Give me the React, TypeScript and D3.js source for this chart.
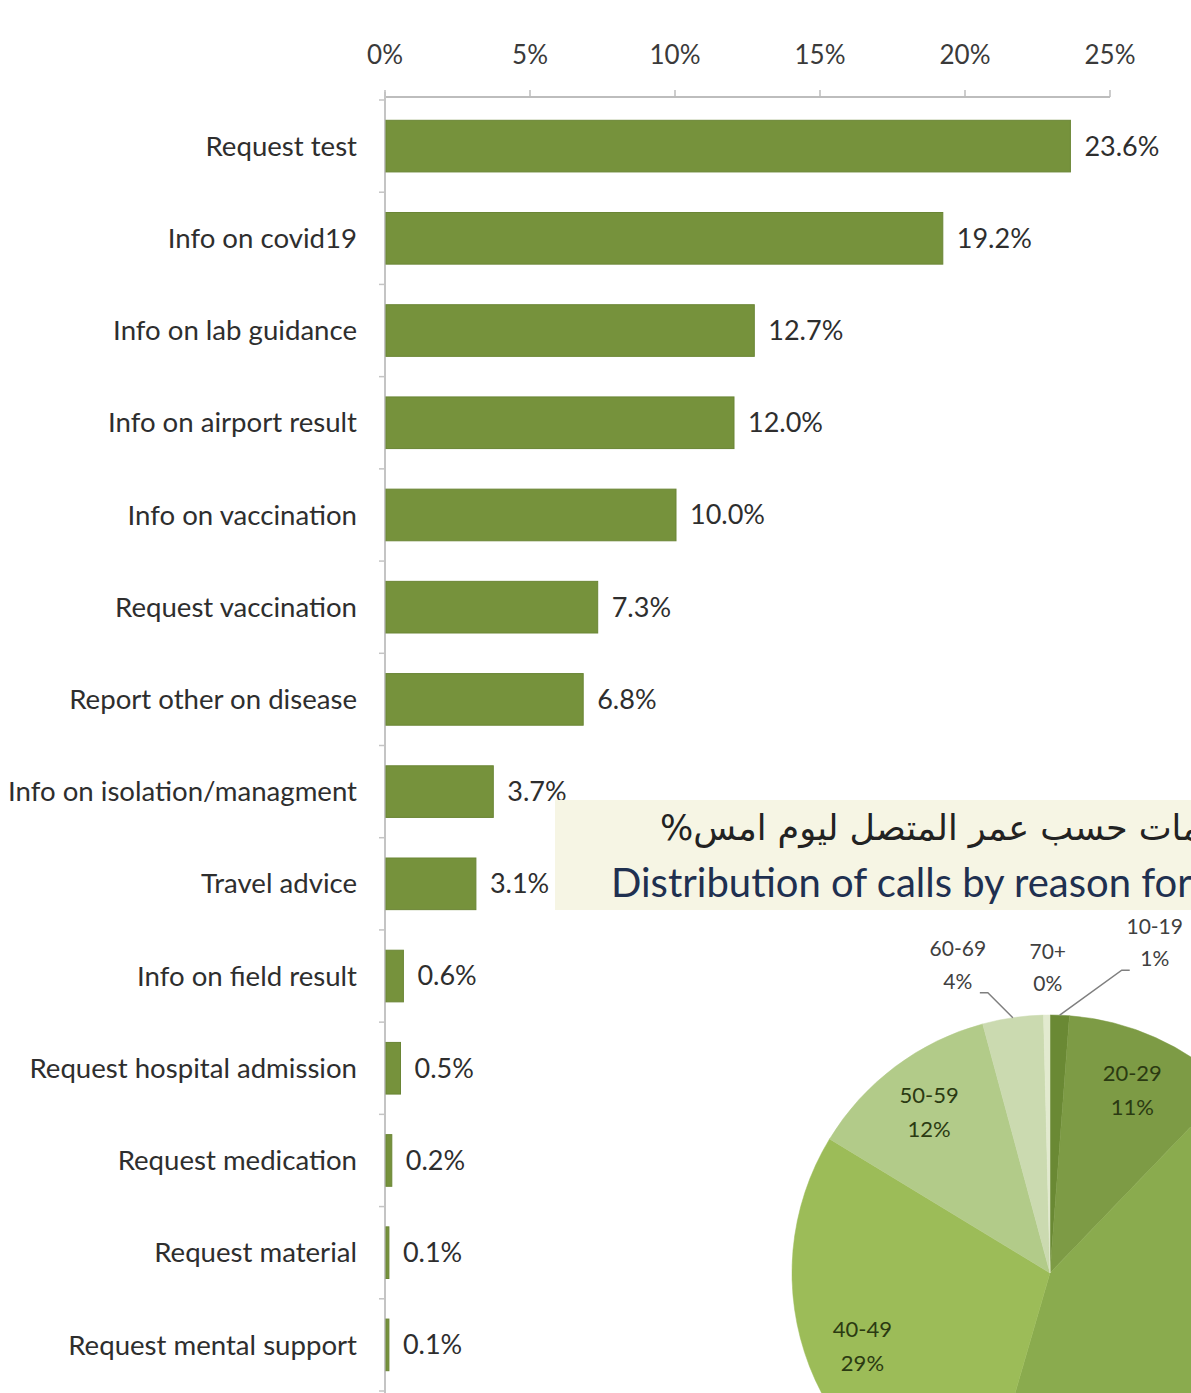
import React from "react";
import * as d3 from "d3";

const categories = [
  "Request test",
  "Info on covid19",
  "Info on lab guidance",
  "Info on airport result",
  "Info on vaccination",
  "Request vaccination",
  "Report other on disease",
  "Info on isolation/managment",
  "Travel advice",
  "Info on field result",
  "Request hospital admission",
  "Request medication",
  "Request material",
  "Request mental support",
];
const values = [23.6, 19.2, 12.7, 12.0, 10.0, 7.3, 6.8, 3.7, 3.1, 0.6, 0.5, 0.2, 0.1, 0.1];
const xTicks = [0, 5, 10, 15, 20, 25];

const ageGroups = ["10-19", "20-29", "30-39", "40-49", "50-59", "60-69", "70+"];
const ageShares = [1.2, 11, 42.3, 29.2, 12.1, 3.8, 0.4];
const ageLabels = ["1%", "11%", "42%", "29%", "12%", "4%", "0%"];
const ageColors = ["#6a8934", "#7d9b45", "#8aab4e", "#9cbc58", "#b2cb89", "#cbdab0", "#e2eacf"];

const arabicTitle = "توزيع المكالمات حسب عمر المتصل ليوم امس%";
const englishTitle = "Distribution of calls by reason for calling";

const W = 1191;
const H = 1393;
const FONT = "Lato, 'Open Sans', sans-serif";

export default function App() {
  const x = d3.scaleLinear().domain([0, 25]).range([385, 1110]);
  const y = d3
    .scaleBand<string>()
    .domain(categories)
    .range([100, 1391])
    .paddingInner(0.44)
    .paddingOuter(0.22);

  const step = y.step();
  const boundaries = d3.range(categories.length + 1).map((i) => 100 + i * step);

  // pie
  const cx = 1050;
  const cy = 1273;
  const r = 258;
  const pie = d3
    .pie<number>()
    .sort(null)
    .value((d) => d)
    .startAngle(0)
    .endAngle(2 * Math.PI);
  const arcs = pie(ageShares);
  const arc = d3.arc<d3.PieArcDatum<number>>().innerRadius(0).outerRadius(r);
  const labelArc = d3
    .arc<d3.PieArcDatum<number>>()
    .innerRadius(r * 0.78)
    .outerRadius(r * 0.78);

  // outside labels for tiny slices: offset of label centre from slice edge point
  const outside: Record<number, { dx: number; dy: number; line: boolean }> = {
    0: { dx: 95, dy: -75, line: true },
    5: { dx: -55, dy: -55, line: true },
    6: { dx: 1, dy: -50, line: false },
  };

  return (
    <svg
      width={W}
      height={H}
      style={{ position: "absolute", left: 0, top: 0, background: "#fff" }}
      fontFamily={FONT}
    >
      <rect x={0} y={0} width={W} height={H} fill="#ffffff" />
      {/* top axis */}
      <line x1={x(0)} x2={x(25)} y1={97} y2={97} stroke="#bdbdbd" strokeWidth={2} />
      {xTicks.map((t) => (
        <g key={t}>
          <line x1={x(t)} x2={x(t)} y1={90} y2={97} stroke="#bdbdbd" strokeWidth={1.5} />
          <text x={x(t)} y={64} textAnchor="middle" fontSize={26} fill="#3a3a3a">
            {t}%
          </text>
        </g>
      ))}
      {/* vertical axis */}
      <line x1={385} x2={385} y1={92} y2={H} stroke="#c4c4c4" strokeWidth={2} />
      {boundaries.map((b, i) => (
        <line key={i} x1={379} x2={385} y1={b} y2={b} stroke="#c4c4c4" strokeWidth={1.5} />
      ))}
      {/* bars */}
      {categories.map((c, i) => {
        const yy = y(c)!;
        const bw = y.bandwidth();
        return (
          <g key={c}>
            <rect
              x={x(0) + 1}
              y={yy}
              width={Math.max(x(values[i]) - x(0), 1.5)}
              height={bw}
              fill="#76923c"
              stroke="#6a8535"
              strokeWidth={1}
            />
            <text
              x={357}
              y={yy + bw / 2}
              dy="0.35em"
              textAnchor="end"
              fontSize={27.6}
              fill="#2e2e2e"
            >
              {c}
            </text>
            <text
              x={x(values[i]) + 15}
              y={yy + bw / 2}
              dy="0.35em"
              fontSize={27}
              fill="#2e2e2e"
            >
              {values[i].toFixed(1)}%
            </text>
          </g>
        );
      })}

      {/* pie title box */}
      <rect x={555} y={800} width={W - 555} height={110} fill="#f6f5e4" />
      <text
        x={660}
        y={840}
        direction="rtl"
        textAnchor="end"
        fontSize={35}
        fontFamily="'DejaVu Sans', sans-serif"
        fill="#222"
      >
        {arabicTitle}
      </text>
      <text x={611} y={897} fontSize={40} fill="#1f3050">
        {englishTitle}
      </text>

      {/* pie */}
      <g transform={`translate(${cx},${cy})`}>
        {arcs.map((a, i) => (
          <path key={ageGroups[i]} d={arc(a)!} fill={ageColors[i]} stroke={ageColors[i]} strokeWidth={0.5} />
        ))}
        {arcs.map((a, i) => {
          const o = outside[i];
          if (o) {
            const mid = (a.startAngle + a.endAngle) / 2;
            const px = r * Math.sin(mid);
            const py = -r * Math.cos(mid);
            const lx = px + o.dx;
            const ly = py + o.dy;
            let line = null;
            if (o.line) {
              const sx = o.dx > 0 ? lx - 25 : lx + 22;
              const sy = ly + 30;
              const hx = o.dx > 0 ? sx - 8 : sx + 8;
              line = (
                <polyline
                  points={`${sx},${sy} ${hx},${sy} ${px},${py}`}
                  fill="none"
                  stroke="#7f7f7f"
                  strokeWidth={1.5}
                />
              );
            }
            return (
              <g key={"l" + i}>
                {line}
                <text x={lx} y={ly} textAnchor="middle" fontSize={21} fill="#404040">
                  <tspan x={lx} dy="-0.3em">{ageGroups[i]}</tspan>
                  <tspan x={lx} dy="1.55em">{ageLabels[i]}</tspan>
                </text>
              </g>
            );
          }
          const [lx, ly] = labelArc.centroid(a);
          return (
            <text key={"l" + i} x={lx} y={ly} textAnchor="middle" fontSize={22} fill="#2b3a12">
              <tspan x={lx} dy="-0.4em">{ageGroups[i]}</tspan>
              <tspan x={lx} dy="1.55em">{ageLabels[i]}</tspan>
            </text>
          );
        })}
      </g>
    </svg>
  );
}
